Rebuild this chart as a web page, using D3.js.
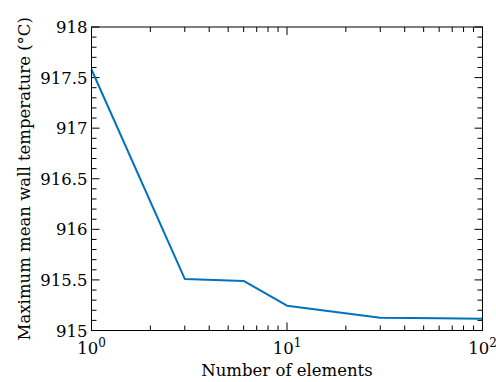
<!DOCTYPE html>
<html>
<head>
<meta charset="utf-8">
<script src="https://cdn.jsdelivr.net/npm/d3@7"></script>
<style>
  html, body { margin: 0; padding: 0; background: #fff; }
</style>
</head>
<body>
<svg id="chart" width="496" height="382" font-family="'DejaVu Serif', serif"></svg>
<script>
// Mesh convergence: number of elements vs. peak mean wall temperature
const elements = [1, 3, 6, 10, 30, 60, 100];
const maxWallTemp = [917.58, 915.51, 915.49, 915.245, 915.127, 915.12, 915.117];
const yTicks = [915, 915.5, 916, 916.5, 917, 917.5, 918];
const xTicks = [1, 10, 100];
const xLabel = "Number of elements";
const yLabel = "Maximum mean wall temperature (°C)";

const W = 496, H = 382;
const margin = { left: 91.5, right: 13.5, top: 27, bottom: 51.5 };
const svg = d3.select("#chart");

const x = d3.scaleLog().domain([1, 100]).range([margin.left, W - margin.right]);
const y = d3.scaleLinear().domain([915, 918]).range([H - margin.bottom, margin.top]);

const x0 = x.range()[0], x1 = x.range()[1];
const y0 = y.range()[0], y1 = y.range()[1];

// minor tick positions
const yMinor = d3.range(9150, 9181, 1).map(v => v / 10).filter(v => !yTicks.some(t => Math.abs(t - v) < 1e-6));
const xMinor = [];
[1, 10].forEach(d => { for (let k = 2; k <= 9; k++) xMinor.push(d * k); });

const g = svg.append("g").attr("stroke", "#000").attr("stroke-width", 1);

// inward-pointing ticks on all four sides
yTicks.forEach(v => {
  g.append("line").attr("x1", x0).attr("x2", x0 + 8).attr("y1", y(v)).attr("y2", y(v));
  g.append("line").attr("x1", x1).attr("x2", x1 - 8).attr("y1", y(v)).attr("y2", y(v));
});
yMinor.forEach(v => {
  g.append("line").attr("x1", x0).attr("x2", x0 + 5).attr("y1", y(v)).attr("y2", y(v));
  g.append("line").attr("x1", x1).attr("x2", x1 - 5).attr("y1", y(v)).attr("y2", y(v));
});
xTicks.forEach(v => {
  g.append("line").attr("x1", x(v)).attr("x2", x(v)).attr("y1", y0).attr("y2", y0 - 8);
  g.append("line").attr("x1", x(v)).attr("x2", x(v)).attr("y1", y1).attr("y2", y1 + 8);
});
xMinor.forEach(v => {
  g.append("line").attr("x1", x(v)).attr("x2", x(v)).attr("y1", y0).attr("y2", y0 - 5);
  g.append("line").attr("x1", x(v)).attr("x2", x(v)).attr("y1", y1).attr("y2", y1 + 5);
});

// data line
const line = d3.line().x((d, i) => x(elements[i])).y(d => y(d));
svg.append("path")
  .datum(maxWallTemp)
  .attr("fill", "none")
  .attr("stroke", "#0072BD")
  .attr("stroke-width", 2)
  .attr("stroke-linejoin", "round")
  .attr("d", line);

// frame
svg.append("rect")
  .attr("x", x0).attr("y", y1)
  .attr("width", x1 - x0).attr("height", y0 - y1)
  .attr("fill", "none").attr("stroke", "#000").attr("stroke-width", 1);

// y tick labels
yTicks.forEach(v => {
  svg.append("text")
    .attr("x", x0 - 4).attr("y", y(v) + 6)
    .attr("text-anchor", "end")
    .attr("font-size", 16.5)
    .text(d3.format("~f")(v));
});

// x tick labels as powers of ten
xTicks.forEach(v => {
  const t = svg.append("text")
    .attr("x", x(v)).attr("y", y0 + 23)
    .attr("text-anchor", "middle")
    .attr("font-size", 16.5);
  t.append("tspan").text("10");
  t.append("tspan").attr("dy", -7).attr("font-size", 12).text(Math.round(Math.log10(v)));
});

// axis titles
svg.append("text")
  .attr("x", (x0 + x1) / 2).attr("y", H - 6)
  .attr("text-anchor", "middle")
  .attr("font-size", 16.5)
  .text(xLabel);

svg.append("text")
  .attr("transform", `translate(30, ${(y0 + y1) / 2}) rotate(-90)`)
  .attr("text-anchor", "middle")
  .attr("font-size", 16.5)
  .text(yLabel);
</script>
</body>
</html>
